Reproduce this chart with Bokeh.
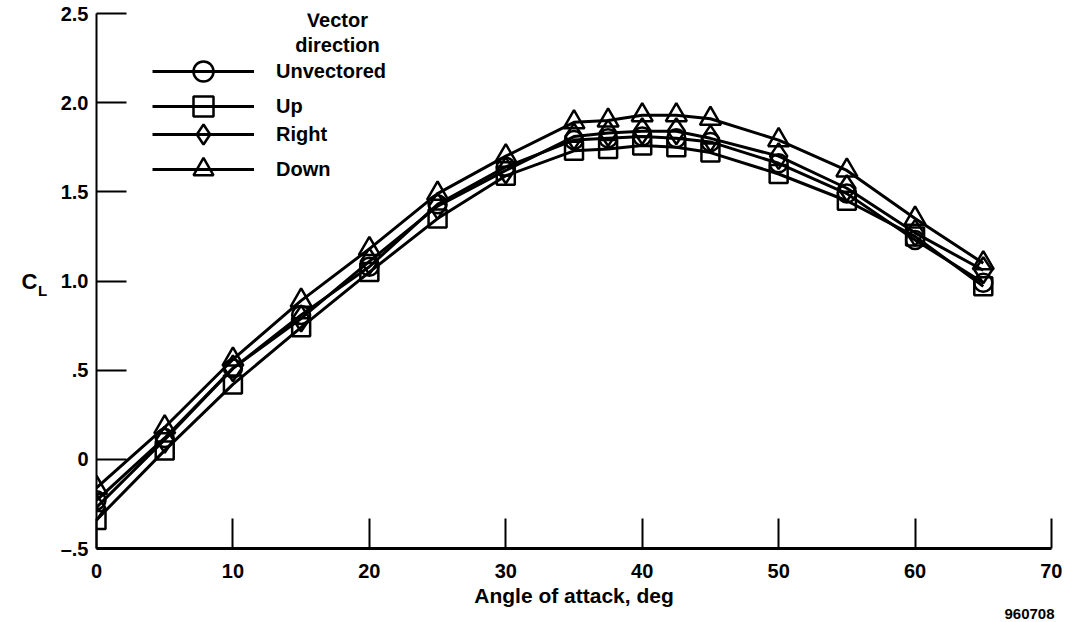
import numpy as np
from bokeh.plotting import figure
from bokeh.models import Legend, LegendItem, Label, FixedTicker, Range1d
from bokeh.embed import file_html
from bokeh.resources import INLINE

# ---- data ----
alpha = [0, 5, 10, 15, 20, 25, 30, 35, 37.5, 40, 42.5, 45, 50, 55, 60, 65]
cl_unvectored = [-0.23, 0.12, 0.51, 0.81, 1.08, 1.43, 1.64, 1.79, 1.80, 1.81, 1.80, 1.78, 1.66, 1.49, 1.23, 0.99]
cl_up = [-0.34, 0.05, 0.42, 0.74, 1.05, 1.35, 1.59, 1.73, 1.74, 1.76, 1.75, 1.72, 1.60, 1.45, 1.25, 0.97]
cl_right = [-0.27, 0.11, 0.51, 0.79, 1.11, 1.42, 1.62, 1.81, 1.83, 1.84, 1.84, 1.80, 1.70, 1.52, 1.27, 1.06]
cl_down = [-0.16, 0.18, 0.56, 0.89, 1.18, 1.49, 1.70, 1.89, 1.90, 1.93, 1.93, 1.91, 1.79, 1.62, 1.35, 1.10]

series_names = ["Unvectored", "Up", "Right", "Down"]
x_ticks = [0, 10, 20, 30, 40, 50, 60, 70]
y_ticks = [-0.5, 0, 0.5, 1.0, 1.5, 2.0, 2.5]
y_tick_labels = ["\u2013.5", "0", ".5", "1.0", "1.5", "2.0", "2.5"]

FONT = "Liberation Sans"
W, H = 1062, 620

p = figure(width=W, height=H,
           x_range=Range1d(0, 70), y_range=Range1d(-0.5, 2.5),
           output_backend="svg", toolbar_location=None,
           min_border_left=96, min_border_right=11,
           min_border_top=13, min_border_bottom=72)
p.outline_line_color = None
p.grid.visible = False
p.background_fill_color = "white"
p.border_fill_color = "white"

# axes
p.xaxis.ticker = FixedTicker(ticks=x_ticks)
p.yaxis.ticker = FixedTicker(ticks=y_ticks)
p.yaxis.major_label_overrides = {t: l for t, l in zip(y_ticks, y_tick_labels)}
for ax in (p.xaxis, p.yaxis):
    ax.major_tick_in = 30
    ax.major_tick_out = 0
    ax.minor_tick_line_color = None
    ax.major_tick_line_width = 2
    ax.major_tick_line_color = "black"
    ax.axis_line_color = "black"
    ax.major_label_text_font = FONT
    ax.major_label_text_font_style = "bold"
    ax.major_label_text_font_size = "20px"
    ax.major_label_text_color = "black"
p.xaxis.major_label_standoff = 15
p.yaxis.major_label_standoff = 8
p.xaxis.axis_line_width = 3
p.yaxis.axis_line_width = 2
p.xaxis.axis_label = "Angle of attack, deg"
p.xaxis.axis_label_text_font = FONT
p.xaxis.axis_label_text_font_style = "bold"
p.xaxis.axis_label_text_font_size = "21px"
p.xaxis.axis_label_text_color = "black"
p.xaxis.axis_label_standoff = 3

# series
specs = [
    (cl_unvectored, "circle", 18),
    (cl_up, "square", 18),
    (cl_right, "diamond", 26),
    (cl_down, "triangle", 21),
]
legend_rows_vy = [452, 417, 389, 354]
for name, (vals, mk, sz), vy in zip(series_names, specs, legend_rows_vy):
    rl = p.line(alpha, vals, line_color="black", line_width=3)
    rm = p.scatter(alpha, vals, marker=mk, size=sz,
                   fill_color=None, line_color="black", line_width=2.5)
    lg = Legend(items=[LegendItem(label=name, renderers=[rl, rm])],
                location=(56, vy),
                glyph_width=102, glyph_height=50, spacing=0,
                label_standoff=22, padding=0, margin=0,
                border_line_color=None, background_fill_alpha=0,
                label_text_font=FONT, label_text_font_style="bold",
                label_text_font_size="20px", label_text_color="black")
    p.add_layout(lg)

# legend title
for txt, yy in (("Vector", 2.461), ("direction", 2.321)):
    p.add_layout(Label(x=17.66, y=yy, text=txt, text_align="center",
                       text_baseline="middle", text_font=FONT,
                       text_font_style="bold", text_font_size="20px",
                       text_color="black"))

# y-axis label C_L (canvas pixels), placed in the left side panel
p.add_layout(Label(x=29, y=281, x_units="canvas", y_units="canvas",
                   text="C", text_align="center", text_baseline="middle",
                   text_font=FONT, text_font_style="bold",
                   text_font_size="22px", text_color="black"), "left")
p.add_layout(Label(x=42, y=290, x_units="canvas", y_units="canvas",
                   text="L", text_align="center", text_baseline="middle",
                   text_font=FONT, text_font_style="bold",
                   text_font_size="15px", text_color="black"), "left")

# figure id, placed in the bottom side panel
p.add_layout(Label(x=1054, y=613, x_units="canvas", y_units="canvas",
                   text="960708", text_align="right", text_baseline="middle",
                   text_font=FONT, text_font_style="bold",
                   text_font_size="15px", text_color="black"), "below")

open("out.html", "w").write(file_html(p, INLINE))
